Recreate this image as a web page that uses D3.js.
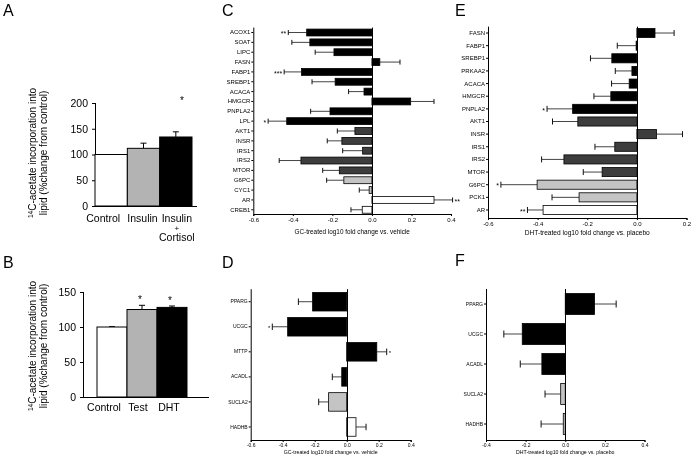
<!DOCTYPE html>
<html><head><meta charset="utf-8">
<script src="https://cdn.jsdelivr.net/npm/d3@7"></script>
<style>body{margin:0;background:#fff}svg{display:block;font-family:"Liberation Sans",Arial,sans-serif;filter:grayscale(100%)}text{fill:#000}</style>
</head><body><svg id="chart" width="693" height="457"></svg>
<script>
// ---------- Panel A ----------
const aCats = ["Control", "Insulin", "Insulin + Cortisol"];
const aVals = [100, 112, 134];
const aErr = [100, 122, 144];
const aSig = ["", "", "*"];
const aTicks = [0, 50, 100, 150, 200];
// ---------- Panel B ----------
const bCats = ["Control", "Test", "DHT"];
const bVals = [100, 125, 128];
const bErr = [100.5, 131, 130];
const bSig = ["", "*", "*"];
const bTicks = [0, 50, 100, 150];
const yTitle1 = "C-acetate incorporation into";
const yTitle2 = "lipid (%change from control)";
// ---------- Panel C ----------
const cGenes = ["ACOX1","SOAT","LIPC","FASN","FABP1","SREBP1","ACACA","HMGCR","PNPLA2","LPL","AKT1","INSR","IRS1","IRS2","MTOR","G6PC","CYC1","AR","CREB1"];
const cVals = [-0.330,-0.314,-0.192,0.040,-0.356,-0.186,-0.040,0.196,-0.212,-0.431,-0.086,-0.152,-0.047,-0.359,-0.165,-0.142,-0.014,0.314,-0.049];
const cErr  = [-0.423,-0.405,-0.287,0.142,-0.444,-0.303,-0.118,0.314,-0.310,-0.525,-0.175,-0.226,-0.148,-0.469,-0.249,-0.229,-0.064,0.408,-0.106];
const cGroup = ["k","k","k","k","k","k","k","k","k","k","d","d","d","d","d","l","l","w","w"];
const cSig = ["**","","","","***","","","","","*","","","","","","","","**",""];
const cTicks = [-0.6,-0.4,-0.2,0,0.2,0.4];
const cTitle = "GC-treated log10 fold change vs. vehicle";
// ---------- Panel D ----------
const dGenes = ["PPARG","UCGC","MTTP","ACADL","SUCLA2","HADHB"];
const dVals = [-0.213,-0.369,0.188,-0.031,-0.113,0.058];
const dErr  = [-0.302,-0.465,0.250,-0.090,-0.175,0.121];
const dGroup = ["k","k","k","k","l","w"];
const dSig = ["","*","*","","",""];
const dTicks = [-0.6,-0.4,-0.2,0,0.2,0.4];
// ---------- Panel E ----------
const eGenes = ["FASN","FABP1","SREBP1","PRKAA2","ACACA","HMGCR","PNPLA2","AKT1","INSR","IRS1","IRS2","MTOR","G6PC","PCK1","AR"];
const eVals = [0.073,-0.003,-0.101,-0.020,-0.031,-0.105,-0.259,-0.238,0.079,-0.089,-0.294,-0.140,-0.402,-0.233,-0.378];
const eErr  = [0.150,-0.079,-0.187,-0.087,-0.102,-0.173,-0.362,-0.340,0.184,-0.169,-0.384,-0.216,-0.548,-0.342,-0.441];
const eGroup = ["k","k","k","k","k","k","k","d","d","d","d","d","l","l","w"];
const eSig = ["","","","","","","*","","","","","","*","","**"];
const eTicks = [-0.6,-0.4,-0.2,0,0.2];
const eTitle = "DHT-treated log10 fold change vs. placebo";
// ---------- Panel F ----------
const fGenes = ["PPARG","UCGC","ACADL","SUCLA2","HADHB"];
const fVals = [0.148,-0.217,-0.118,-0.023,-0.010];
const fErr  = [0.257,-0.310,-0.227,-0.102,-0.122];
const fGroup = ["k","k","k","l","l"];
const fSig = ["","","","",""];
const fTicks = [-0.4,-0.2,0,0.2,0.4];

const svg = d3.select("#chart");
svg.append("rect").attr("width",693).attr("height",457).attr("fill","#fff");
const groupColor = d3.scaleOrdinal(["k","d","l","w"], ["#000000","#3d3d3d","#c4c4c4","#ffffff"]);
const vbarFill = ["#ffffff","#b3b3b3","#000000"];
const fmt = v => d3.format(".1f")(v).replace("\u2212","-");

// panel letters
[["A",3,16],["B",3,268],["C",222,16],["D",222,268],["E",455,16],["F",455,266]].forEach(p=>{
  svg.append("text").attr("x",p[1]).attr("y",p[2]).attr("font-size",16).attr("fill","#000").text(p[0]);
});

function vbar(o){
  const g = svg.append("g");
  const x = d3.scaleBand(o.cats, o.band);
  const y = d3.scaleLinear([0, o.ticks[o.ticks.length-1]], o.yr);
  const ya = g.append("g").attr("transform",`translate(${o.ax},0)`)
    .call(d3.axisLeft(y).tickValues(o.ticks).tickSize(3).tickPadding(4));
  ya.selectAll("text").attr("font-size",10.5).attr("font-family","inherit").attr("fill","#000");
  ya.select(".domain").remove();
  ya.selectAll("line").attr("stroke","#000");
  g.append("line").attr("x1",o.ax+0.5).attr("x2",o.ax+0.5).attr("y1",o.yr[1]).attr("y2",o.yr[0]).attr("stroke","#000");
  g.append("line").attr("x1",o.ax).attr("x2",o.xEnd).attr("y1",o.yr[0]+0.5).attr("y2",o.yr[0]+0.5).attr("stroke","#000");
  o.cats.forEach((c,i)=>{
    const cx = x(c)+x.bandwidth()/2;
    g.append("line").attr("x1",cx).attr("x2",cx).attr("y1",y(o.vals[i])).attr("y2",y(o.err[i])).attr("stroke","#000");
    g.append("line").attr("x1",cx-3).attr("x2",cx+3).attr("y1",y(o.err[i])).attr("y2",y(o.err[i])).attr("stroke","#000");
    g.append("rect").attr("x",x(c)).attr("width",x.bandwidth()).attr("y",y(o.vals[i])).attr("height",y(0)-y(o.vals[i]))
      .attr("fill",vbarFill[i]).attr("stroke","#000").attr("stroke-width",1);
    if(o.sig[i]) g.append("text").attr("x",cx+o.starDx).attr("y",y(o.err[i])-o.starUp).attr("text-anchor","middle").attr("font-size",10).attr("fill","#000").text(o.sig[i]);
    const lines = c.split(" ");
    const ys = [0, 8.5, 19];
    const fs = [10.5, 8, 10.5];
    lines.forEach((l,j)=>{
      g.append("text").attr("text-anchor","middle").attr("font-size",fs[j]).attr("fill","#000")
        .attr("x",cx+o.lblDx[i]).attr("y",o.lblY + ys[j]).text(l);
    });
  });
  [[o.t1x,yTitle1,true],[o.t2x,yTitle2,false]].forEach(([tx,txt,sup])=>{
    const t = g.append("text").attr("transform",`translate(${tx},${o.tc}) rotate(-90)`).attr("text-anchor","middle").attr("font-size",10).attr("fill","#222");
    if(sup){ t.append("tspan").attr("font-size",6.5).attr("dy",-3.5).text("14"); t.append("tspan").attr("dy",3.5).text(txt);} else t.text(txt);
  });
}

vbar({cats:aCats, vals:aVals, err:aErr, sig:aSig, ticks:aTicks, band:[95,192], yr:[206,103], ax:95, xEnd:197,
  lblY:222, lblDx:[-8,-1,1], t1x:36, t2x:47, tc:153, starDx:6, starUp:28});
vbar({cats:bCats, vals:bVals, err:bErr, sig:bSig, ticks:bTicks, band:[97,187], yr:[397,292], ax:83, xEnd:209,
  lblY:411, lblDx:[-8,-4,-3], t1x:36, t2x:47, tc:346, starDx:-2, starUp:2});

function hbar(o){
  const g = svg.append("g");
  const x = d3.scaleLinear([o.ticks[0], o.ticks[o.ticks.length-1]], o.xr);
  const y = d3.scaleBand(o.genes, o.yr).paddingInner(o.pad).paddingOuter(o.pad/2);
  const xa = g.append("g").attr("transform",`translate(0,${o.axisY})`)
    .call(d3.axisBottom(x).tickValues(o.ticks).tickFormat(fmt).tickSize(2).tickPadding(1.5));
  xa.select(".domain").attr("stroke","#000");
  xa.selectAll("text").attr("font-size",o.fsTick).attr("font-family","inherit").attr("fill","#000");
  const yaG = g.append("g").attr("transform",`translate(${o.xr[0]},0)`)
    .call(d3.axisLeft(y).tickSize(2).tickPadding(1));
  yaG.select(".domain").remove();
  yaG.selectAll("text").attr("font-size",o.fsTick).attr("font-family","inherit").attr("fill","#000");
  g.append("line").attr("x1",o.xr[0]+0.5).attr("x2",o.xr[0]+0.5).attr("y1",o.yr[0]).attr("y2",o.axisY+0.5).attr("stroke","#000");
  o.genes.forEach((gn,i)=>{
    const cy = y(gn)+y.bandwidth()/2;
    const v = o.vals[i], e = o.err[i];
    g.append("line").attr("x1",x(v)).attr("x2",x(e)).attr("y1",cy).attr("y2",cy).attr("stroke","#444").attr("stroke-width",1);
    g.append("line").attr("x1",x(e)).attr("x2",x(e)).attr("y1",cy-o.cap/2).attr("y2",cy+o.cap/2).attr("stroke","#111").attr("stroke-width",1);
    g.append("rect").attr("x",Math.min(x(0),x(v))).attr("width",Math.abs(x(v)-x(0))).attr("y",y(gn)).attr("height",y.bandwidth())
      .attr("fill",groupColor(o.group[i])).attr("stroke","#000").attr("stroke-width",0.8);
    if(o.sig[i]){
      const neg = e < 0;
      g.append("text").attr("x",x(e)+(neg?-2:2)).attr("y",cy+o.fsTick*0.62).attr("text-anchor",neg?"end":"start")
        .attr("font-size",o.fsTick+1).attr("fill","#000").text(o.sig[i]);
    }
  });
  g.append("line").attr("x1",Math.round(x(0))+0.5).attr("x2",Math.round(x(0))+0.5).attr("y1",o.yr[0]).attr("y2",o.axisY).attr("stroke","#000");
  g.append("text").attr("x",(o.xr[0]+o.xr[1])/2).attr("y",o.titleY).attr("text-anchor","middle").attr("font-size",o.fsTitle).attr("fill","#111").text(o.title);
}

hbar({genes:cGenes, vals:cVals, err:cErr, group:cGroup, sig:cSig, ticks:cTicks, xr:[253.3,451], yr:[27.6,214.7], pad:0.3,
  axisY:214, fsTick:6, fsTitle:6.4, titleY:234, title:cTitle, cap:5});
hbar({genes:eGenes, vals:eVals, err:eErr, group:eGroup, sig:eSig, ticks:eTicks, xr:[488,686.5], yr:[26.7,216.3], pad:0.28,
  axisY:218, fsTick:6, fsTitle:6.6, titleY:235, title:eTitle, cap:6});
hbar({genes:dGenes, vals:dVals, err:dErr, group:dGroup, sig:dSig, ticks:dTicks, xr:[250.7,410.7], yr:[289.2,439.5], pad:0.26,
  axisY:440, fsTick:5, fsTitle:5.2, titleY:454, title:cTitle, cap:6.5});
hbar({genes:fGenes, vals:fVals, err:fErr, group:fGroup, sig:fSig, ticks:fTicks, xr:[486,644.5], yr:[289,439], pad:0.3,
  axisY:440, fsTick:5, fsTitle:5.2, titleY:454, title:eTitle, cap:7});
</script></body></html>
